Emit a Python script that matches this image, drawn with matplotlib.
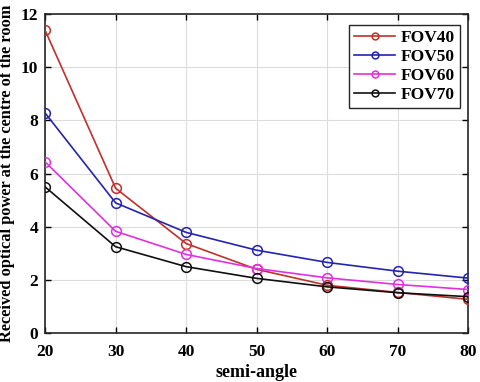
import numpy as np
import matplotlib
matplotlib.use('Agg')
import matplotlib.pyplot as plt

# ==============================================================================
# DATA
# ==============================================================================
semi_angle = [20, 30, 40, 50, 60, 70, 80]
fov40 = [11.39, 5.45, 3.37, 2.40, 1.80, 1.53, 1.27]
fov50 = [8.28, 4.90, 3.79, 3.12, 2.66, 2.33, 2.07]
fov60 = [6.44, 3.83, 2.96, 2.43, 2.08, 1.83, 1.64]
fov70 = [5.50, 3.25, 2.50, 2.06, 1.74, 1.52, 1.37]
labels = ['FOV40', 'FOV50', 'FOV60', 'FOV70']

COLORS = ['#c0302c', '#2424b0', '#e030e0', '#101010']

plt.rcParams['font.family'] = ['Liberation Serif', 'DejaVu Serif']
plt.rcParams['font.weight'] = 'bold'

fig = plt.figure(figsize=(4.8, 3.82), dpi=100)
ax = fig.add_axes([0.094, 0.128, 0.881, 0.835])

for series, lab, col in zip([fov40, fov50, fov60, fov70], labels, COLORS):
    ax.plot(semi_angle, series, color=col, lw=1.2, marker='o', markersize=7,
            markerfacecolor='none', markeredgecolor=col, markeredgewidth=1.1,
            label=lab, zorder=3)

ax.set_xlim(20, 80)
ax.set_ylim(0, 12)
ax.set_xticks(semi_angle)
ax.set_yticks([0, 2, 4, 6, 8, 10, 12])
ax.grid(True, color='#dcdcdc', lw=0.8)
ax.tick_params(labelsize=12.5, direction='in', length=4, width=1,
               top=True, right=True)
ax.tick_params(axis='x', pad=8)
ax.tick_params(axis='y', pad=5)
for lab in ax.get_xticklabels() + ax.get_yticklabels():
    lab.set_fontweight('bold')
for sp in ax.spines.values():
    sp.set_linewidth(1.2)
    sp.set_color('#262626')

ax.set_xlabel('semi-angle', fontsize=13, fontweight='bold', labelpad=3)
ax.set_ylabel('Received optical power at the centre of the room', fontsize=11.8,
              fontweight='bold', labelpad=4)

leg = ax.legend(loc='upper right', bbox_to_anchor=(0.981, 0.9655),
                frameon=True, fancybox=False, edgecolor='#262626',
                framealpha=1, borderpad=0.3, handlelength=2.4,
                handletextpad=0.3, labelspacing=0.15, borderaxespad=0,
                markerscale=0.7, prop={'weight': 'bold', 'size': 12.5})
leg.get_frame().set_linewidth(1.0)

fig.savefig('out.png', dpi=100)
